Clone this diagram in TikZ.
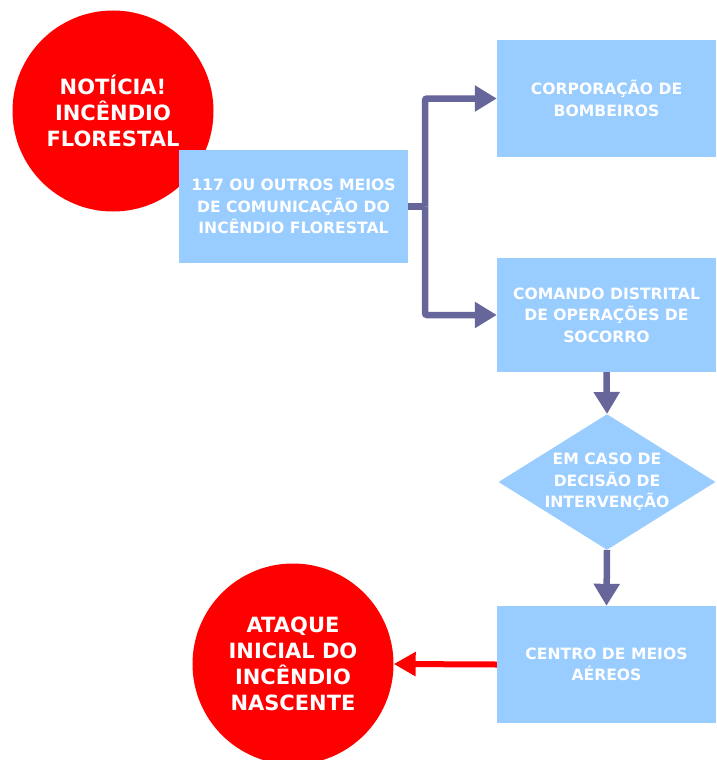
\documentclass[tikz,border=0pt]{standalone}
\usepackage{fontspec}
\setmainfont{DejaVu Sans}
\usepackage{xcolor}
\usepackage{tikz}
\usetikzlibrary{arrows.meta,shapes.geometric}

\definecolor{boxblue}{HTML}{99CCFF}
\definecolor{alertred}{HTML}{FF0000}
\definecolor{arrowgray}{HTML}{66669A}

\begin{document}
\begin{tikzpicture}[x=1pt,y=-1pt,
    redball/.style={circle,fill=alertred,minimum size=201pt,inner sep=0pt,
      text=white,align=center,font=\fontsize{21}{26}\selectfont\bfseries},
    boxfont/.style={text=white,align=center,
      font=\fontsize{15.6}{21.5}\selectfont\bfseries},
    bluebox/.style={rectangle,fill=boxblue,inner sep=0pt,boxfont},
    flow/.style={draw=arrowgray,line width=6.5pt,rounded corners=2pt,
      -{Triangle[length=22pt,width=25pt]}},
    hotflow/.style={draw=alertred,line width=6pt,
      -{Triangle[length=22pt,width=23pt]}}]
    \useasboundingbox (0,0) rectangle (716,760);

    % alarm and first contact
    \node[redball] (noticia) at (113,111) {NOTÍCIA!\\INCÊNDIO\\FLORESTAL};
    \node[bluebox,minimum width=229pt,minimum height=113pt] (meios) at (293.5,206.5)
      {117 OU OUTROS MEIOS\\DE COMUNICAÇÃO DO\\INCÊNDIO FLORESTAL};

    % right column
    \node[bluebox,minimum width=219pt,minimum height=117pt] (bombeiros) at (606.5,98.5)
      {CORPORAÇÃO DE\\BOMBEIROS};
    \node[bluebox,minimum width=219pt,minimum height=114pt] (cdos) at (606.5,315)
      {COMANDO DISTRITAL\\DE OPERAÇÕES DE\\SOCORRO};
    \node[diamond,fill=boxblue,inner sep=0pt,aspect=1.6,
      minimum width=213pt,minimum height=132pt,boxfont]
      (decisao) at (607,482) {EM CASO DE\\DECISÃO DE\\INTERVENÇÃO};
    \node[bluebox,minimum width=219pt,minimum height=117pt] (cma) at (606.5,664.5)
      {CENTRO DE MEIOS\\AÉREOS};

    % outcome
    \node[redball] (ataque) at (293,664) {ATAQUE\\INICIAL DO\\INCÊNDIO\\NASCENTE};

    % connectors
    \coordinate (split) at (425,206.5);
    \draw[draw=arrowgray,line width=6.5pt] (meios.east) -- (split);
    \draw[flow] (split) |- (bombeiros.west);
    \draw[flow] (split) |- (cdos.west);
    \draw[flow] (cdos.south) -- (decisao.north);
    \draw[flow] (decisao.south) -- (cma.north);
    \draw[hotflow] (cma.west) -- (ataque.east);
\end{tikzpicture}
\end{document}
